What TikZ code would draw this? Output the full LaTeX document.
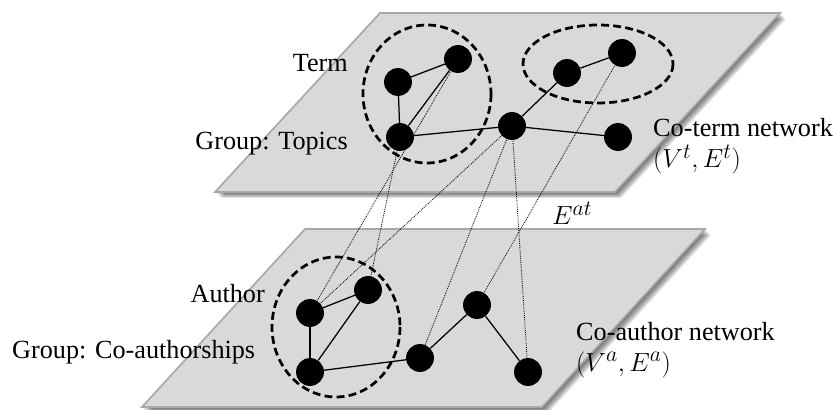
\documentclass[tikz,border=0pt]{standalone}
\usepackage{fontspec}
\setmainfont{Liberation Serif}

\pgfdeclarelayer{planes}
\pgfdeclarelayer{links}
\pgfsetlayers{planes,links,main}

\definecolor{planefill}{HTML}{D9D9D9}
\definecolor{planeedge}{HTML}{A8A8A8}

% outlines of the two network layers
\newcommand{\termplane}{(380,13) -- (780,13) -- (615,192) -- (215,192) -- cycle}
\newcommand{\authorplane}{(305,229) -- (705,229) -- (542,407) -- (142,407) -- cycle}

\begin{document}
\begin{tikzpicture}[x=0.95pt,y=-0.95pt,
  vertex/.style={circle,fill=black,inner sep=0pt,minimum size=26.5pt},
  tie/.style={line width=1.2pt},
  crosslink/.style={line width=0.8pt,densely dotted,draw=black},
  group/.style={line width=2.6pt,dash pattern=on 7.5pt off 4pt},
  lbl/.style={font=\fontsize{24.88}{28}\selectfont,inner sep=0pt},
  plane/.style={fill=planefill,draw=planeedge,line width=1.6pt,line join=miter}]

\useasboundingbox (0,0) rectangle (833,410);

% ---- layers with soft shadows ----
\begin{pgfonlayer}{planes}
  \foreach \o in {1,...,6} {
    \fill[black,opacity=0.12] [shift={(\o,\o)}] \termplane;
    \fill[black,opacity=0.12] [shift={(\o,\o)}] \authorplane;
  }
  \path[plane] \termplane;
  \path[plane] \authorplane;

  % groups
  \draw[group] (427,94) ellipse [x radius=64, y radius=69];
  \draw[group] (598,64) ellipse [x radius=75, y radius=39];
  \draw[group] (336,327) ellipse [x radius=64, y radius=70];
\end{pgfonlayer}

% ---- co-term network ----
\node[vertex] (t1) at (398,82) {};
\node[vertex] (t2) at (458,59) {};
\node[vertex] (t3) at (400,137) {};
\node[vertex] (t4) at (512,126) {};
\node[vertex] (t5) at (567,73) {};
\node[vertex] (t6) at (622,53) {};
\node[vertex] (t7) at (618,137) {};

% ---- co-author network ----
\node[vertex] (a1) at (310,313) {};
\node[vertex] (a2) at (368,290) {};
\node[vertex] (a3) at (310,372) {};
\node[vertex] (a4) at (420,358) {};
\node[vertex] (a5) at (477,305) {};
\node[vertex] (a6) at (528,372) {};

\begin{pgfonlayer}{links}
  \draw[tie] (t1) -- (t2);
  \draw[tie] (t1) -- (t3);
  \draw[tie] (t3) -- (t2);
  \draw[tie] (t3) -- (t4);
  \draw[tie] (t4) -- (t5);
  \draw[tie] (t5) -- (t6);
  \draw[tie] (t4) -- (t7);

  \draw[tie] (a1) -- (a2);
  \draw[tie] (a1) -- (a3);
  \draw[tie] (a3) -- (a2);
  \draw[tie] (a3) -- (a4);
  \draw[tie] (a4) -- (a5);
  \draw[tie] (a5) -- (a6);

  % author-term links
  \draw[crosslink] (t2.center) -- (a1.center);
  \draw[crosslink] (t3.center) -- (a2.center);
  \draw[crosslink] (t4.center) -- (a1.center);
  \draw[crosslink] (t4.center) -- (a4.center);
  \draw[crosslink] (t4.center) -- (a6.center);
  \draw[crosslink] (t6.center) -- (a5.center);
\end{pgfonlayer}

% ---- labels ----
\node[lbl,anchor=base east] (termlbl) at (348,72) {Term};
\node[lbl,anchor=base east] (topiclbl) at (348,150) {Group: Topics};
\node[lbl,anchor=base west] (ctnet) at (653,137) {Co-term network};
\node[lbl,anchor=base west] (ctset) at (653,168) {$(V^t,E^t)$};
\node[lbl,anchor=base west] (eat) at (552,225) {$E^{at}$};
\node[lbl,anchor=base east] (authlbl) at (265,303) {Author};
\node[lbl,anchor=base west] (colbl) at (12,358) {Group: Co-authorships};
\node[lbl,anchor=base west] (canet) at (576,340) {Co-author network};
\node[lbl,anchor=base west] (caset) at (576,371) {$(V^a,E^a)$};
\end{tikzpicture}
\end{document}
